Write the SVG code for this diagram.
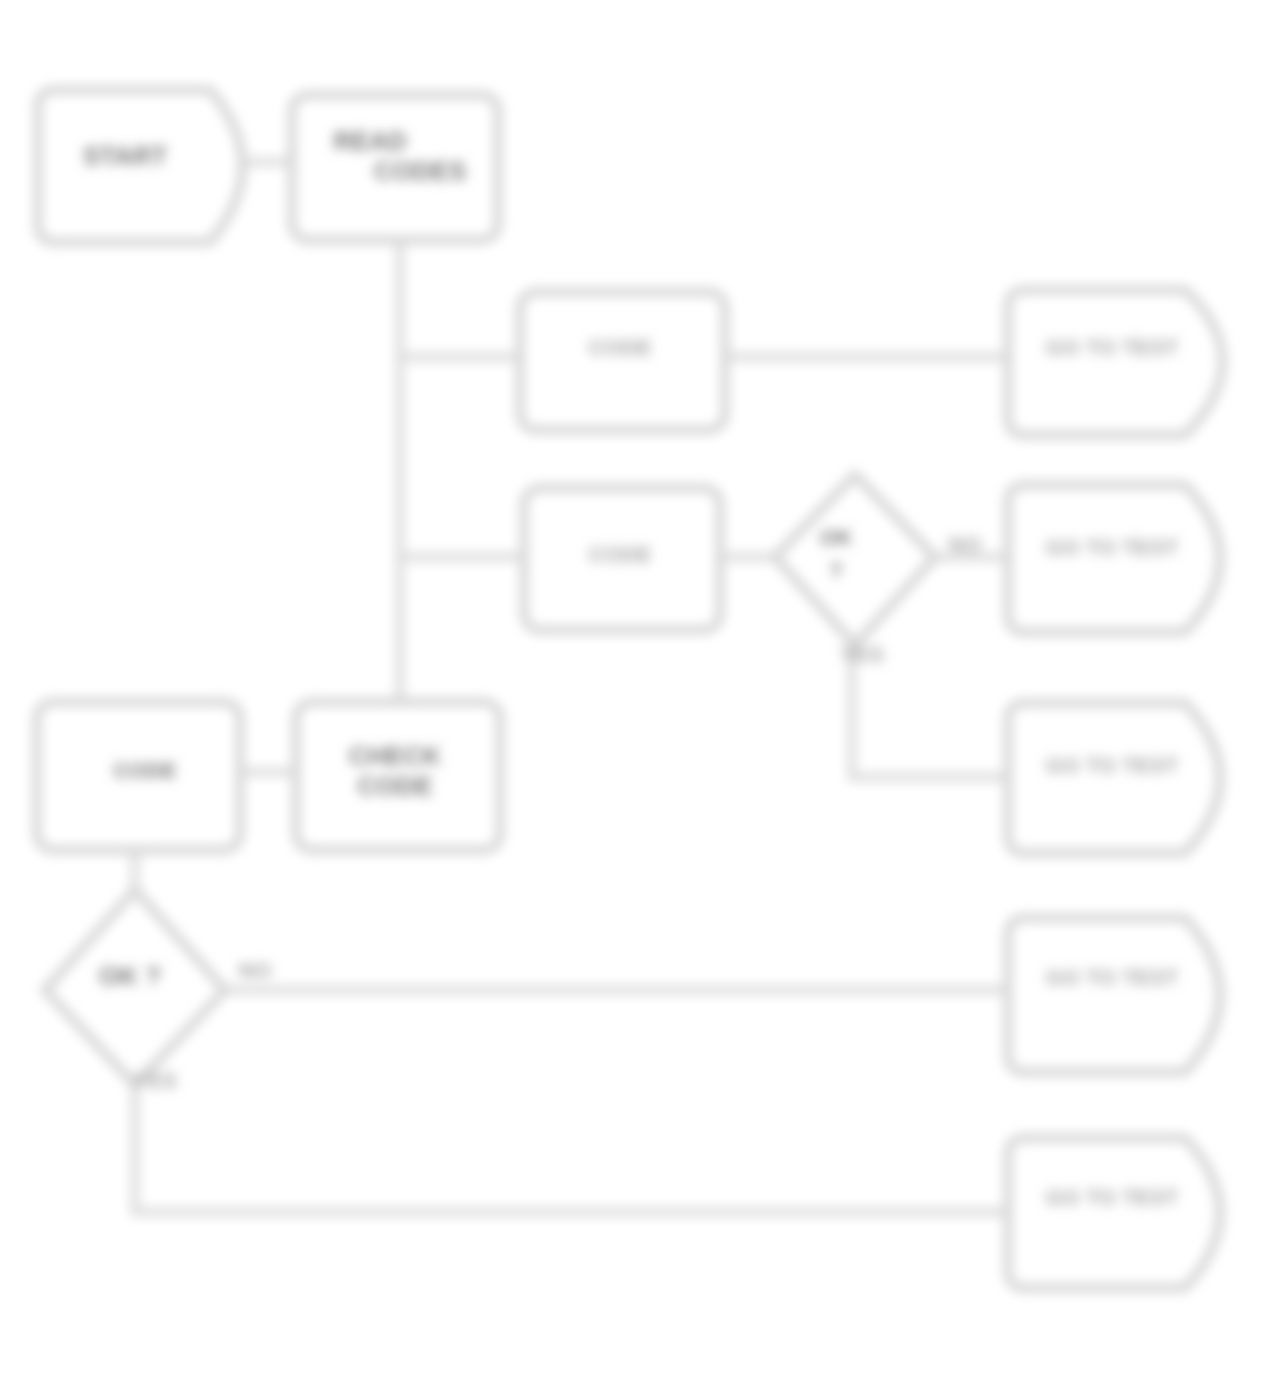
<svg xmlns="http://www.w3.org/2000/svg" width="1271" height="1374" viewBox="0 0 1271 1374">
<defs>
<filter id="blur" x="-5%" y="-5%" width="110%" height="110%"><feGaussianBlur stdDeviation="6"/></filter>
</defs>
<style>
.n{fill:none;stroke:#d6d6d6;stroke-width:9}
.c{fill:none;stroke:#dedede;stroke-width:9}
.t{font-family:"Liberation Sans",Arial,sans-serif;font-weight:bold;fill:#7a7a7a;text-anchor:middle}
.s{font-size:26px}
.m{font-size:22px}
.l{fill:#a8a8a8}
</style>
<rect width="1271" height="1374" fill="#ffffff"/>
<g filter="url(#blur)">
<g id="connectors">
<line class="c" x1="245" y1="162" x2="290" y2="162"/>
<line class="c" x1="400" y1="240" x2="400" y2="700"/>
<line class="c" x1="400" y1="357" x2="518" y2="357"/>
<line class="c" x1="400" y1="557" x2="522" y2="557"/>
<line class="c" x1="725" y1="357" x2="1005" y2="357"/>
<line class="c" x1="720" y1="557" x2="775" y2="557"/>
<line class="c" x1="935" y1="557" x2="1005" y2="557"/>
<polyline class="c" points="852,645 852,777 1005,777"/>
<line class="c" x1="240" y1="772" x2="295" y2="772"/>
<line class="c" x1="135" y1="850" x2="135" y2="890"/>
<line class="c" x1="225" y1="990" x2="1005" y2="990"/>
<polyline class="c" points="135,1085 135,1212 1005,1212"/>
</g>
<g id="start">
<path class="n" d="M55,90 H210 Q275,165 210,242 H55 Q38,242 38,225 V107 Q38,90 55,90 Z"/>
<text class="t s" x="125" y="165">START</text>
</g>
<g id="read">
<rect class="n" x="292" y="95" width="206" height="145" rx="16"/>
<text class="t s" x="370" y="150">READ</text>
<text class="t s" x="420" y="180">CODES</text>
</g>
<g id="box3">
<rect class="n" x="520" y="292" width="205" height="138" rx="16"/>
<text class="t m l" x="620" y="355">CODE</text>
</g>
<g id="box6">
<rect class="n" x="524" y="488" width="196" height="142" rx="16"/>
<text class="t m l" x="620" y="562">CODE</text>
</g>
<g id="dec1">
<path class="n" d="M855,475 L935,557 L855,645 L775,557 Z"/>
<text class="t m" x="836" y="545">OK</text>
<text class="t m" x="836" y="578">?</text>
<text class="t m l" x="965" y="552">NO</text>
<text class="t m l" x="862" y="662">YES</text>
</g>
<g id="out5">
<path class="n" d="M1025,290 H1185 Q1260,360 1185,435 H1025 Q1008,435 1008,418 V307 Q1008,290 1025,290 Z"/>
<text class="t m l" x="1112" y="355">GO TO TEST</text>
</g>
<g id="out7">
<path class="n" d="M1025,485 H1185 Q1255,558 1185,632 H1025 Q1008,632 1008,615 V502 Q1008,485 1025,485 Z"/>
<text class="t m l" x="1112" y="555">GO TO TEST</text>
</g>
<g id="out8">
<path class="n" d="M1025,703 H1185 Q1255,778 1185,853 H1025 Q1008,853 1008,836 V720 Q1008,703 1025,703 Z"/>
<text class="t m l" x="1112" y="773">GO TO TEST</text>
</g>
<g id="box9">
<rect class="n" x="37" y="702" width="203" height="148" rx="16"/>
<text class="t m" x="145" y="778">CODE</text>
</g>
<g id="box10">
<rect class="n" x="296" y="702" width="204" height="148" rx="16"/>
<text class="t s" x="395" y="765">CHECK</text>
<text class="t s" x="395" y="795">CODE</text>
</g>
<g id="dec2">
<path class="n" d="M135,890 L225,990 L135,1085 L45,990 Z"/>
<text class="t s" x="130" y="985">OK ?</text>
<text class="t m l" x="255" y="978">NO</text>
<text class="t m l" x="155" y="1088">YES</text>
</g>
<g id="out11">
<path class="n" d="M1025,918 H1185 Q1255,995 1185,1072 H1025 Q1008,1072 1008,1055 V935 Q1008,918 1025,918 Z"/>
<text class="t m l" x="1112" y="985">GO TO TEST</text>
</g>
<g id="out12">
<path class="n" d="M1025,1138 H1185 Q1255,1212 1185,1288 H1025 Q1008,1288 1008,1271 V1155 Q1008,1138 1025,1138 Z"/>
<text class="t m l" x="1112" y="1205">GO TO TEST</text>
</g>
</g>
</svg>
